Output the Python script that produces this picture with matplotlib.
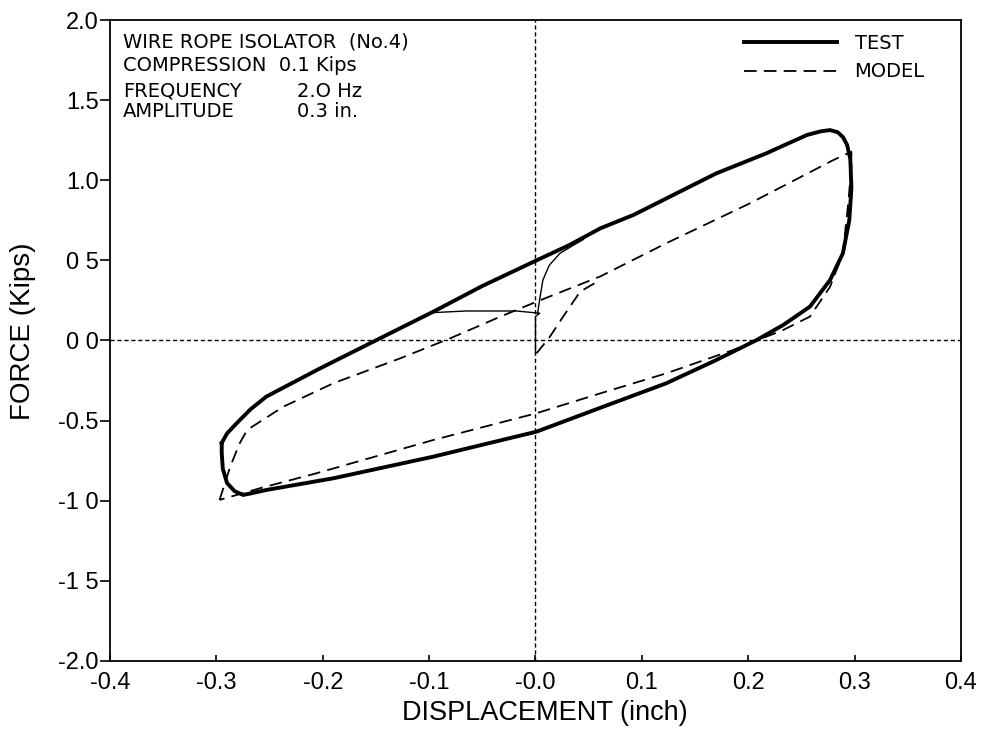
import matplotlib
matplotlib.use('Agg')
import matplotlib.pyplot as plt

plt.rcParams['font.family'] = ['Liberation Sans', 'DejaVu Sans']

# Test loop (thick solid)
test_x = [-0.295, -0.290, -0.281, -0.268, -0.253, -0.2025, -0.146, -0.096, -0.050,
          0.001, 0.032, 0.061, 0.092, 0.170, 0.217, 0.255, 0.268, 0.277, 0.284,
          0.289, 0.293, 0.296, 0.297, 0.295, 0.289, 0.277, 0.258, 0.233, 0.208,
          0.170, 0.123, 0.061, 0.001, -0.096, -0.19, -0.253, -0.268, -0.275,
          -0.283, -0.290, -0.294, -0.295, -0.295]
test_y = [-0.64, -0.58, -0.517, -0.43, -0.35, -0.174, 0.014, 0.18, 0.34,
          0.50, 0.596, 0.70, 0.783, 1.043, 1.168, 1.282, 1.305, 1.313, 1.30,
          1.27, 1.22, 1.13, 0.95, 0.75, 0.544, 0.378, 0.211, 0.097, 0.003,
          -0.122, -0.267, -0.42, -0.569, -0.725, -0.86, -0.933, -0.955, -0.964,
          -0.94, -0.89, -0.80, -0.70, -0.64]

# Test start-up (thin solid)
init_a_x = [0.0, 0.0, 0.004, -0.018, -0.065, -0.096]
init_a_y = [-0.08, 0.15, 0.17, 0.184, 0.184, 0.174]
init_b_x = [0.002, 0.004, 0.007, 0.013, 0.023, 0.036, 0.045]
init_b_y = [0.17, 0.26, 0.378, 0.47, 0.544, 0.596, 0.63]

# Model loop (dashed)
model_x = [-0.297, -0.293, -0.287, -0.278, -0.271, -0.237, -0.19, -0.127, -0.080,
           -0.033, 0.001, 0.061, 0.123, 0.2016, 0.28, 0.297, 0.297, 0.294, 0.289,
           0.277, 0.258, 0.233, 0.186, 0.123, 0.061, 0.001, -0.096, -0.206,
           -0.259, -0.297]
model_y = [-0.995, -0.912, -0.787, -0.64, -0.558, -0.413, -0.267, -0.111, 0.014,
           0.149, 0.242, 0.40, 0.607, 0.856, 1.126, 1.178, 1.085, 0.856, 0.544,
           0.336, 0.149, 0.066, -0.059, -0.205, -0.33, -0.454, -0.621, -0.829,
           -0.922, -0.995]
model_init_x = [0.001, 0.0136, 0.026, 0.042, 0.061]
model_init_y = [-0.08, 0.024, 0.149, 0.305, 0.378]

x_ticks = [-0.4, -0.3, -0.2, -0.1, 0.0, 0.1, 0.2, 0.3, 0.4]
x_labels = ['-0.4', '-0.3', '-0.2', '-0.1', '-0.0', '0.1', '0.2', '0.3', '0.4']
y_ticks = [2.0, 1.5, 1.0, 0.5, 0.0, -0.5, -1.0, -1.5, -2.0]
y_labels = ['2.0', '1.5', '1.0', '0 5', '0 0', '-0.5', '-1 0', '-1 5', '-2.0']

info_left = ['WIRE ROPE ISOLATOR  (No.4)', 'COMPRESSION  0.1 Kips',
             'FREQUENCY', 'AMPLITUDE']
info_right = ['', '', '2.O Hz', '0.3 in.']

fig = plt.figure(figsize=(9.86, 7.36), dpi=100)
ax = fig.add_axes([0.1116, 0.102, 0.863, 0.8708])

ax.axhline(0, color='black', linestyle=(0, (3, 2)), linewidth=1.0)
ax.axvline(0, color='black', linestyle=(0, (3, 2)), linewidth=1.0)

ax.plot(test_x, test_y, color='black', linewidth=2.8, solid_joinstyle='round',
        label='TEST')
ax.plot(init_a_x, init_a_y, color='black', linewidth=1.0)
ax.plot(init_b_x, init_b_y, color='black', linewidth=1.0)
ax.plot(model_x, model_y, color='black', linewidth=1.3, linestyle=(0, (7, 4)),
        label='MODEL')
ax.plot(model_init_x, model_init_y, color='black', linewidth=1.3,
        linestyle=(0, (7, 4)))

ax.set_xlim(-0.4, 0.4)
ax.set_ylim(-2.0, 2.0)
ax.set_xticks(x_ticks)
ax.set_xticklabels(x_labels)
ax.set_yticks(y_ticks)
ax.set_yticklabels(y_labels)
ax.tick_params(axis='x', labelsize=17, direction='in', length=4, width=1.2, pad=8)
ax.tick_params(axis='y', labelsize=17, direction='out', length=7, width=1.2, pad=1)
for sp in ax.spines.values():
    sp.set_linewidth(1.3)

ax.set_xlabel('DISPLACEMENT (inch)', fontsize=19.5)
ax.xaxis.set_label_coords(0.511, -0.081)
ax.xaxis.label.set_verticalalignment('center')
ax.set_ylabel('FORCE (Kips)', fontsize=20)
ax.yaxis.set_label_coords(-0.102, 0.515)
ax.yaxis.label.set_verticalalignment('center')

ys = [0.966, 0.929, 0.889, 0.857]
for left, right, yy in zip(info_left, info_right, ys):
    ax.text(0.0153, yy, left, transform=ax.transAxes, fontsize=14,
            family='DejaVu Sans', va='center')
    if right:
        ax.text(0.2197, yy, right, transform=ax.transAxes, fontsize=14,
                family='DejaVu Sans', va='center')

ax.legend(loc='upper right', bbox_to_anchor=(0.978, 1.006), frameon=False,
          prop={'family': 'DejaVu Sans', 'size': 14}, handlelength=4.8,
          handletextpad=0.9, labelspacing=0.5)

fig.savefig('out.png', dpi=100)
